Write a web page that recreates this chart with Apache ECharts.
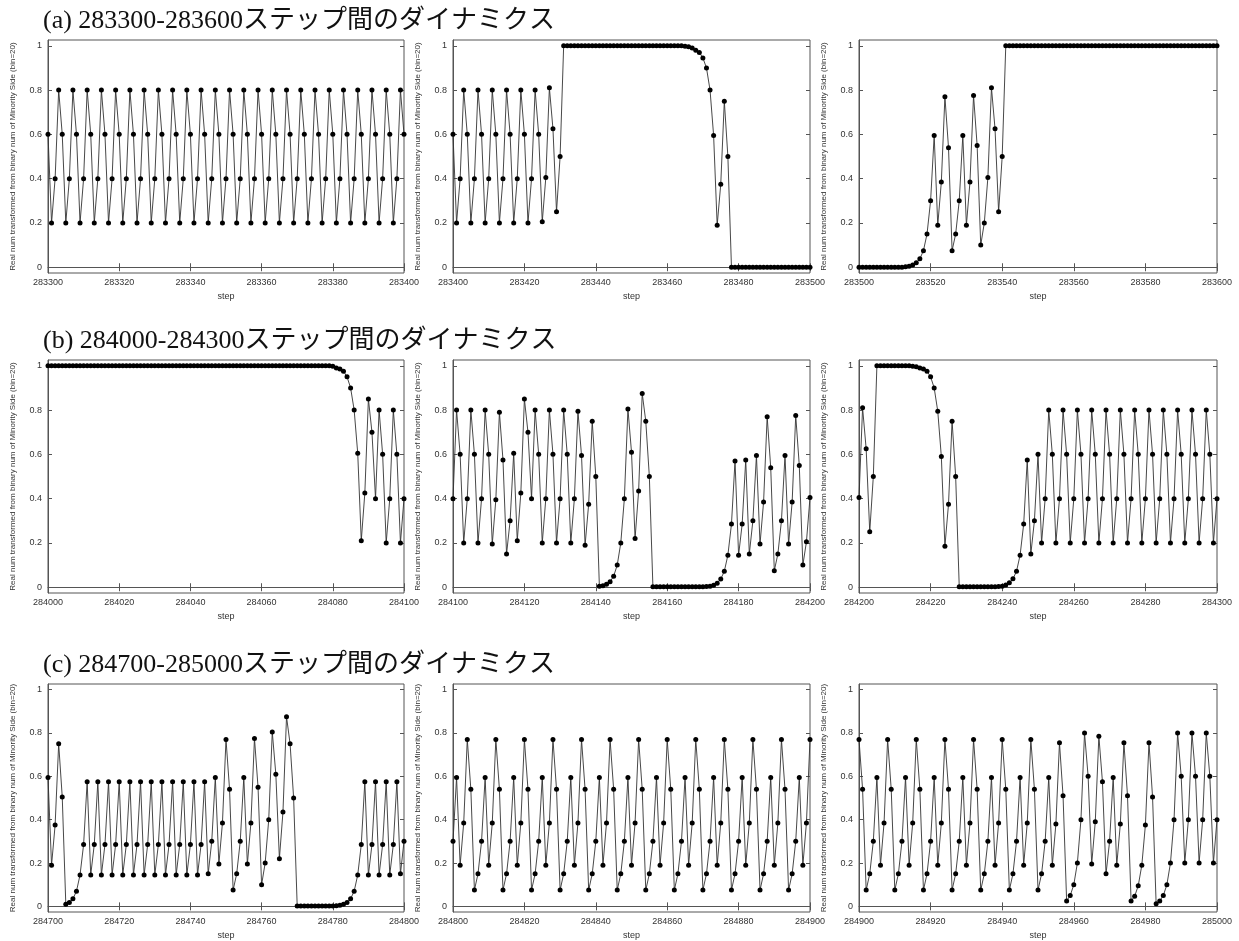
<!DOCTYPE html>
<html>
<head>
<meta charset="utf-8">
<title>ダイナミクス</title>
<script src="https://cdn.jsdelivr.net/npm/echarts@6/dist/echarts.min.js"></script>
<style>
html, body { margin: 0; padding: 0; background: #fff; }
#chart { width: 1239px; height: 941px; }
</style>
</head>
<body>
<div id="chart"></div>
<script>
const rowTitles = [
  '(a) 283300-283600ステップ間のダイナミクス',
  '(b) 284000-284300ステップ間のダイナミクス',
  '(c) 284700-285000ステップ間のダイナミクス'
]
const panelStarts = [283300, 283400, 283500, 284000, 284100, 284200, 284700, 284800, 284900]
const yTicks = [0, 0.2, 0.4, 0.6, 0.8, 1]
const xLabel = 'step'
const yLabel = 'Real num transformed from binary num of Minority Side (bin=20)'

// (a) 283300-283600
const valsA1 = [
  0.6,0.2,0.4,0.8, 0.6,0.2,0.4,0.8, 0.6,0.2,0.4,0.8, 0.6,0.2,0.4,0.8, 0.6,0.2,0.4,0.8,
  0.6,0.2,0.4,0.8, 0.6,0.2,0.4,0.8, 0.6,0.2,0.4,0.8, 0.6,0.2,0.4,0.8, 0.6,0.2,0.4,0.8,
  0.6,0.2,0.4,0.8, 0.6,0.2,0.4,0.8, 0.6,0.2,0.4,0.8, 0.6,0.2,0.4,0.8, 0.6,0.2,0.4,0.8,
  0.6,0.2,0.4,0.8, 0.6,0.2,0.4,0.8, 0.6,0.2,0.4,0.8, 0.6,0.2,0.4,0.8, 0.6,0.2,0.4,0.8,
  0.6,0.2,0.4,0.8, 0.6,0.2,0.4,0.8, 0.6,0.2,0.4,0.8, 0.6,0.2,0.4,0.8, 0.6,0.2,0.4,0.8,
  0.6
]
const valsA2 = [
  0.6,0.2,0.4,0.8, 0.6,0.2,0.4,0.8, 0.6,0.2,0.4,0.8, 0.6,0.2,0.4,0.8, 0.6,0.2,0.4,0.8,
  0.6,0.2,0.4,0.8, 0.6,0.205,0.405,0.81,0.625,0.25,0.5,
  1,1,1,1,1,1,1,1,1,1, 1,1,1,1,1,1,1,1,1,1, 1,1,1,1,1,1,1,1,1,1, 1,1,1,1,
  0.998,0.995,0.99,0.98,0.97,0.945,0.9,0.8,0.595,0.19,0.375,0.75,0.5,
  0,0,0,0,0,0,0,0,0,0, 0,0,0,0,0,0,0,0,0,0, 0,0,0
]
const valsA3 = [
  0,0,0,0,0,0,0,0,0,0, 0,0,0,
  0.002,0.005,0.01,0.02,0.038,0.075,0.15,0.3,0.595,0.19,0.385,0.77,0.54,0.075,
  0.15,0.3,0.595,0.19,0.385,0.775,0.55,0.1,0.2,0.405,0.81,0.625,0.25,0.5,
  1,1,1,1,1,1,1,1,1,1, 1,1,1,1,1,1,1,1,1,1, 1,1,1,1,1,1,1,1,1,1,
  1,1,1,1,1,1,1,1,1,1, 1,1,1,1,1,1,1,1,1,1, 1,1,1,1,1,1,1,1,1,1
]

// (b) 284000-284300
const valsB1 = [
  1,1,1,1,1,1,1,1,1,1, 1,1,1,1,1,1,1,1,1,1, 1,1,1,1,1,1,1,1,1,1, 1,1,1,1,1,1,1,1,1,1,
  1,1,1,1,1,1,1,1,1,1, 1,1,1,1,1,1,1,1,1,1, 1,1,1,1,1,1,1,1,1,1, 1,1,1,1,1,1,1,1,1,1,
  0.998,0.99,0.985,0.975,0.95,0.9,0.8,0.605,0.21,0.425,0.85,0.7,
  0.4,0.8,0.6,0.2,0.4,0.8,0.6,0.2,0.4
]
const valsB2 = [
  0.4,0.8,0.6,0.2,0.4,0.8,0.6,0.2,0.4,0.8,0.6,
  0.195,0.395,0.79,0.575,0.15,0.3,0.605,0.21,0.425,0.85,0.7,
  0.4,0.8,0.6,0.2,0.4,0.8,0.6,0.2,0.4,0.8,0.6,0.2,0.4,
  0.795,0.595,0.19,0.375,0.75,0.5,
  0.005,0.007,0.013,0.025,0.05,0.1,0.2,0.4,0.805,0.61,0.22,0.435,0.875,0.75,0.5,
  0.002,0.002,0.002,0.002,0.002,0.002,0.002,0.002,0.002,0.002,0.002,0.002,0.002,0.002,0.002,
  0.003,0.005,0.009,0.018,0.037,0.072,
  0.145,0.285,0.57,0.145,0.285,0.575,0.15,0.3,0.595,0.195,0.385,0.77,0.54,0.075,
  0.15,0.3,0.595,0.195,0.385,0.775,0.55,0.1,0.205,0.405
]
const valsB3 = [
  0.405,0.81,0.625,0.25,0.5,
  1,1,1,1,1,1,1,1,1,1,
  0.998,0.995,0.99,0.985,0.975,0.95,0.9,0.795,0.59,0.185,0.375,0.75,0.5,
  0.002,0.002,0.002,0.002,0.002,0.002,0.002,0.002,0.002,0.002,0.002,
  0.003,0.005,0.01,0.02,0.038,0.072,0.145,0.285,0.575,0.15,0.3,0.6,0.2,0.4,0.8,0.6,0.2,
  0.4,0.8,0.6,0.2, 0.4,0.8,0.6,0.2, 0.4,0.8,0.6,0.2, 0.4,0.8,0.6,0.2, 0.4,0.8,0.6,0.2,
  0.4,0.8,0.6,0.2, 0.4,0.8,0.6,0.2, 0.4,0.8,0.6,0.2, 0.4,0.8,0.6,0.2, 0.4,0.8,0.6,0.2,
  0.4,0.8,0.6,0.2, 0.4
]

// (c) 284700-285000
const valsC1 = [
  0.595,0.19,0.375,0.75,0.505,0.01,0.018,0.035,0.07,
  0.145,0.285,0.575, 0.145,0.285,0.575, 0.145,0.285,0.575, 0.145,0.285,0.575,
  0.145,0.285,0.575, 0.145,0.285,0.575, 0.145,0.285,0.575, 0.145,0.285,0.575,
  0.145,0.285,0.575, 0.145,0.285,0.575, 0.145,0.285,0.575, 0.145,0.285,0.575,
  0.15,0.3,0.595,0.195,0.385,0.77,0.54,0.075,0.15,0.3,0.595,0.195,0.385,0.775,0.55,
  0.1,0.2,0.4,0.805,0.61,0.22,0.435,0.875,0.75,0.5,
  0.002,0.002,0.002,0.002,0.002,0.002,0.002,0.002,0.002,0.002,0.002,
  0.003,0.005,0.01,0.018,0.035,0.07,
  0.145,0.285,0.575, 0.145,0.285,0.575, 0.145,0.285,0.575, 0.145,0.285,0.575,
  0.15,0.3
]
const valsC2 = [
  0.3,0.595,0.19,0.385,0.77,0.54,0.075,0.15, 0.3,0.595,0.19,0.385,0.77,0.54,0.075,0.15,
  0.3,0.595,0.19,0.385,0.77,0.54,0.075,0.15, 0.3,0.595,0.19,0.385,0.77,0.54,0.075,0.15,
  0.3,0.595,0.19,0.385,0.77,0.54,0.075,0.15, 0.3,0.595,0.19,0.385,0.77,0.54,0.075,0.15,
  0.3,0.595,0.19,0.385,0.77,0.54,0.075,0.15, 0.3,0.595,0.19,0.385,0.77,0.54,0.075,0.15,
  0.3,0.595,0.19,0.385,0.77,0.54,0.075,0.15, 0.3,0.595,0.19,0.385,0.77,0.54,0.075,0.15,
  0.3,0.595,0.19,0.385,0.77,0.54,0.075,0.15, 0.3,0.595,0.19,0.385,0.77,0.54,0.075,0.15,
  0.3,0.595,0.19,0.385,0.77
]
const valsC3 = [
  0.77,0.54,0.075,0.15,0.3,0.595,0.19,0.385, 0.77,0.54,0.075,0.15,0.3,0.595,0.19,0.385,
  0.77,0.54,0.075,0.15,0.3,0.595,0.19,0.385, 0.77,0.54,0.075,0.15,0.3,0.595,0.19,0.385,
  0.77,0.54,0.075,0.15,0.3,0.595,0.19,0.385, 0.77,0.54,0.075,0.15,0.3,0.595,0.19,0.385,
  0.77,0.54,
  0.075,0.15,0.3,0.595,0.19,0.38,0.755,0.51,0.025,0.05,0.1,0.2,0.4,0.8,0.6,0.195,0.39,
  0.785,0.575,0.15,0.3,0.595,0.19,0.38,0.755,0.51,0.025,0.047,0.095,0.19,0.375,0.755,
  0.505,0.012,0.025,0.05,0.1,0.2,0.4,
  0.8,0.6,0.2,0.4,0.8,0.6,0.2,0.4,0.8,0.6,0.2,0.4
]

const panelValues = [valsA1, valsA2, valsA3, valsB1, valsB2, valsB3, valsC1, valsC2, valsC3]

const colLeft = [48, 453, 859]
const colWidth = [356, 357, 358]
const rowTop = [40, 360, 684]
const PLOT_H = 233
const Y_MIN = -0.026, Y_MAX = 1.026

const FRAME = '#555'
const TEXT = '#333'
const labelFont = 'Liberation Sans, Arial, sans-serif'
const titleFont = "'Liberation Serif', 'DejaVu Serif', 'Noto Sans CJK JP', serif"

const grids = [], xAxes = [], yAxes = [], series = []

panelValues.forEach((vals, i) => {
  const row = Math.floor(i / 3), col = i % 3
  const start = panelStarts[i]
  grids.push({
    left: colLeft[col], top: rowTop[row], width: colWidth[col], height: PLOT_H,
    show: true, borderColor: FRAME, borderWidth: 1, backgroundColor: 'transparent'
  })
  const tick = { show: true, inside: true, length: 4, lineStyle: { color: FRAME } }
  // bottom axis with labels, top axis only mirrors the ticks
  xAxes.push({
    type: 'value', gridIndex: i, min: start, max: start + 100, interval: 20,
    position: 'bottom',
    axisLine: { show: true, lineStyle: { color: FRAME } },
    axisTick: tick,
    axisLabel: { fontSize: 9, color: TEXT, fontFamily: labelFont, margin: 5, showMaxLabel: true,
      formatter: v => String(v) },
    splitLine: { show: false },
    name: xLabel, nameLocation: 'middle', nameGap: 19,
    nameTextStyle: { fontSize: 9, color: TEXT, fontFamily: labelFont }
  })
  xAxes.push({
    type: 'value', gridIndex: i, min: start, max: start + 100, interval: 20,
    position: 'top',
    axisLine: { show: false }, axisTick: tick, axisLabel: { show: false }, splitLine: { show: false }
  })
  yAxes.push({
    type: 'value', gridIndex: i, min: Y_MIN, max: Y_MAX, position: 'left',
    axisLine: { show: true, lineStyle: { color: FRAME } },
    axisTick: Object.assign({ customValues: yTicks }, tick),
    axisLabel: { customValues: yTicks, fontSize: 9, color: TEXT, fontFamily: labelFont, margin: 6,
      formatter: v => String(Math.round(v * 10) / 10) },
    splitLine: { show: false },
    name: yLabel, nameLocation: 'middle', nameGap: 31,
    nameTextStyle: { fontSize: 8, color: TEXT, fontFamily: labelFont }
  })
  yAxes.push({
    type: 'value', gridIndex: i, min: Y_MIN, max: Y_MAX, position: 'right',
    axisLine: { show: false },
    axisTick: Object.assign({ customValues: yTicks }, tick),
    axisLabel: { show: false }, splitLine: { show: false }
  })
  series.push({
    type: 'line',
    xAxisIndex: i * 2, yAxisIndex: i * 2,
    data: vals.map((v, k) => [start + k, v]),
    symbol: 'circle', symbolSize: 5,
    itemStyle: { color: '#000' },
    lineStyle: { color: '#333', width: 0.9 },
    animation: false
  })
})

const titles = rowTitles.map((t, r) => ({
  text: t, left: 38, top: rowTop[r] - 37,
  textStyle: { fontFamily: titleFont, fontSize: 26, fontWeight: 'normal', color: '#111' }
}))

const chart = echarts.init(document.getElementById('chart'))
chart.setOption({
  backgroundColor: '#fff',
  animation: false,
  title: titles,
  grid: grids,
  xAxis: xAxes,
  yAxis: yAxes,
  series: series
})
</script>
</body>
</html>
